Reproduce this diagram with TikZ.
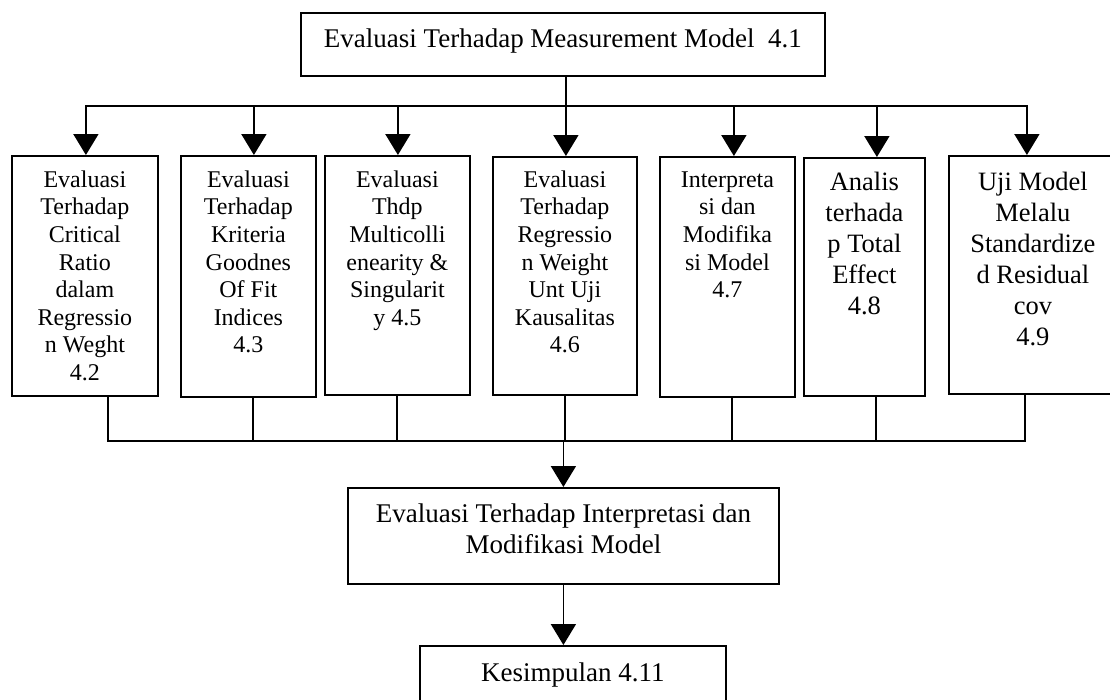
\documentclass[tikz,border=0pt]{standalone}
\usepackage{fontspec}
\setmainfont{Liberation Serif}
\usetikzlibrary{arrows.meta,positioning}
\begin{document}
\begin{tikzpicture}[x=1pt,y=-1pt,
  box/.style={draw, line width=1.8pt, inner sep=0pt, anchor=north west},
  sz/.style 2 args={minimum width=#1pt, minimum height=#2pt},
  small/.style={font=\fontsize{24}{27.6}\selectfont, align=center, inner sep=0pt},
  large/.style={font=\fontsize{26.5}{31}\selectfont, align=center, inner sep=0pt},
  wide/.style={font=\fontsize{27}{31.7}\selectfont, align=center, inner sep=0pt},
  bar/.style={line width=2.3pt, line cap=rect},
  link/.style={line width=1.5pt},
  arr/.style={line width=1.8pt, -{Triangle[length=21pt,width=25pt]}},
]
\path[use as bounding box, fill=white] (0,0) rectangle (1110,699);
\clip (0,0) rectangle (1110,699);

% top box
\node[box, sz={524}{63}] (top) at (300,12) {};
\node[wide, below=12.8pt of top.north] (ttop) {\strut Evaluasi Terhadap Measurement Model\ \ 4.1};

% row of evaluation boxes
\node[box, sz={146}{240}] (b1) at (11,155) {};
\node[box, sz={135}{241}] (b2) at (180,155) {};
\node[box, sz={145}{239}] (b3) at (324,155) {};
\node[box, sz={144}{238}] (b4) at (492,156) {};
\node[box, sz={135}{240}] (b5) at (659,156) {};
\node[box, sz={121}{238}] (b6) at (803,157) {};
\node[box, sz={168}{238}] (b7) at (948,155) {};

\node[small, below=12.7pt of b1.north] (t1) {\strut Evaluasi\\Terhadap\\Critical\\Ratio\\dalam\\Regressio\\n Weght\\4.2};
\node[small, below=12.7pt of b2.north] (t2) {\strut Evaluasi\\Terhadap\\Kriteria\\Goodnes\\Of Fit\\Indices\\4.3};
\node[small, below=12.7pt of b3.north] (t3) {\strut Evaluasi\\Thdp\\Multicolli\\enearity \&\\Singularit\\y 4.5};
\node[small, below=11.7pt of b4.north] (t4) {\strut Evaluasi\\Terhadap\\Regressio\\n Weight\\Unt Uji\\Kausalitas\\4.6};
\node[small, below=11.7pt of b5.north] (t5) {\strut Interpreta\\si dan\\Modifika\\si Model\\4.7};
\node[large, below=11.3pt of b6.north] (t6) {\strut Analis\\terhada\\p Total\\Effect\\4.8};
\node[large, below=13.3pt of b7.north] (t7) {\strut Uji Model\\Melalu\\Standardize\\d Residual\\cov\\4.9};

% lower boxes
\node[box, sz={431}{96}] (mid) at (347,487) {};
\node[wide, below=12.8pt of mid.north] (tmid) {\strut Evaluasi Terhadap Interpretasi dan\\Modifikasi Model};
\node[box, sz={306}{62}] (kes) at (419,645) {};
\node[wide, below=14.3pt of kes.north] (tkes) {\strut Kesimpulan 4.11};

% entry points on the top of each box
\coordinate (i1) at ([xshift=1pt]b1.north);
\coordinate (i2) at ([xshift=5.5pt]b2.north);
\coordinate (i3) at ([xshift=0.5pt]b3.north);
\coordinate (i4) at ([xshift=1pt]b4.north);
\coordinate (i5) at ([xshift=6.5pt]b5.north);
\coordinate (i6) at ([xshift=12.5pt]b6.north);
\coordinate (i7) at ([xshift=-6pt]b7.north);
% exit points on the bottom of each box
\coordinate (o1) at ([xshift=23pt]b1.south);
\coordinate (o2) at ([xshift=4.5pt]b2.south);
\coordinate (o3) at ([xshift=-0.5pt]b3.south);
\coordinate (o4) at (b4.south);
\coordinate (o5) at ([xshift=4.5pt]b5.south);
\coordinate (o6) at ([xshift=11.5pt]b6.south);
\coordinate (o7) at ([xshift=-8pt]b7.south);

% distribution bar from the top box
\coordinate (tbar) at (0,106);
\coordinate (stem) at ([xshift=3pt]top.south);
\draw[bar] (stem) -- (stem |- tbar);
\draw[bar] (i1 |- tbar) -- (i7 |- tbar);
\foreach \p in {i1,i2,i3,i4,i5,i6,i7}
  \draw[arr] (\p |- tbar) -- (\p);

% collecting bar below the row
\coordinate (bbar) at (0,441);
\foreach \p in {o1,o2,o3,o4,o5,o6,o7}
  \draw[link] (\p) -- (\p |- bbar);
\draw[bar] (o1 |- bbar) -- (o7 |- bbar);
\draw[arr] (mid.north |- bbar) -- (mid.north);
\draw[arr] (mid.south) -- (mid.south |- kes.north);
\end{tikzpicture}
\end{document}
